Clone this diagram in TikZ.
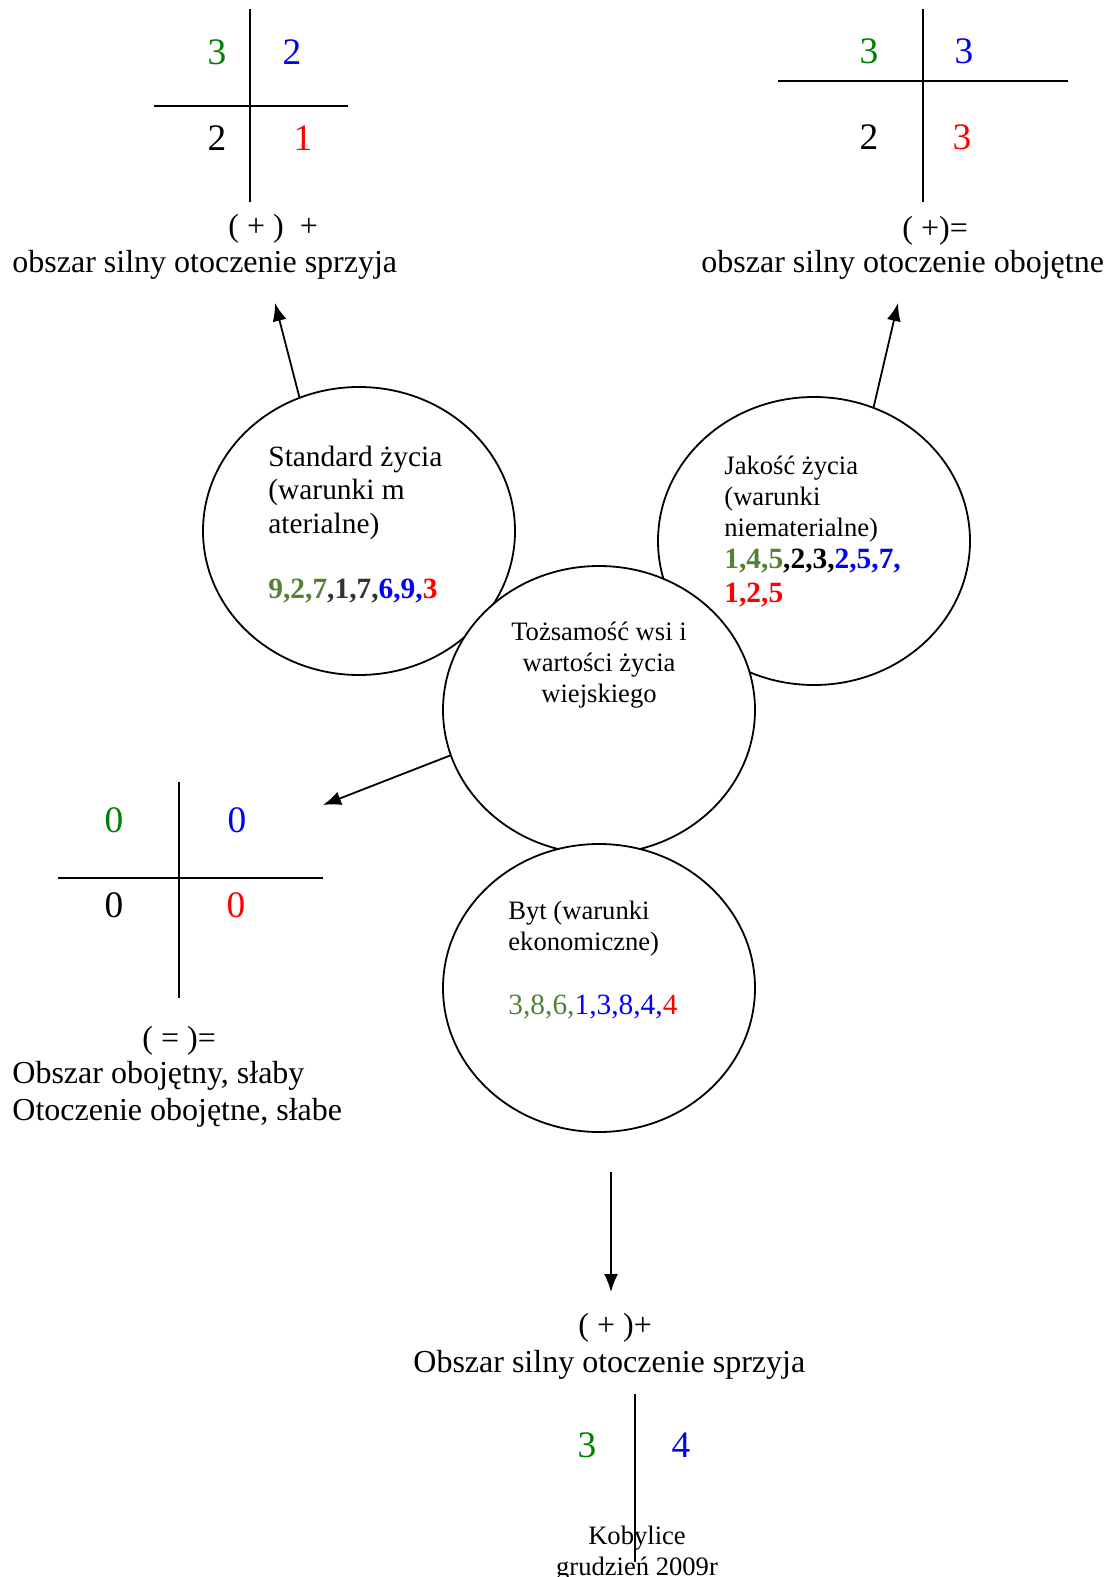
\documentclass[tikz,border=0pt]{standalone}
\usepackage{fontspec}
\setmainfont{Liberation Serif}
\usetikzlibrary{shapes.geometric,arrows.meta}
\definecolor{qgreen}{RGB}{0,128,0}
\definecolor{cgreen}{RGB}{84,130,53}
\definecolor{cgray}{RGB}{51,51,51}
\definecolor{qblue}{RGB}{0,0,255}
\definecolor{qred}{RGB}{255,0,0}
\newcommand\bigtxt{\fontsize{16}{18.5}\selectfont}
\newcommand\digtxt{\fontsize{18.7}{22}\selectfont}
\newcommand\midtxt{\fontsize{14.7}{16.7}\selectfont}
\newcommand\smtxt{\fontsize{13.3}{15.5}\selectfont}
\tikzset{
  area/.style={ellipse,draw,fill=white,line width=0.9pt,minimum width=156pt,minimum height=144pt,inner sep=0pt},
  arr/.style={-{Latex[length=9pt,width=7pt]},line width=0.9pt},
  cross/.style={line width=0.9pt},
  digit/.style={font=\digtxt,anchor=base,inner sep=0pt},
  label/.style={font=\bigtxt,anchor=base west,inner sep=0pt,align=left},
  intxt/.style={anchor=base west,inner sep=0pt,align=left}
}
\begin{document}
\begin{tikzpicture}[x=0.5pt,y=-0.5pt]
\useasboundingbox (0,0) rectangle (1106,1577);
% circles
\node[area] (std) at (359,531) {};
\node[area] (jak) at (814,541) {};
\node[area] (toz) at (599,710) {};
\node[area] (byt) at (599,988) {};
\node[intxt,font=\midtxt] (stdtxt) at (268,533) {Standard życia\\(warunki m\\aterialne)};
\node[intxt,font=\midtxt\bfseries] (stdnum) at (268,598) {\textcolor{cgreen}{9,2,7}\textcolor{cgray}{,1,7,}\textcolor{qblue}{6,9,}\textcolor{qred}{3}};
\node[intxt,font=\smtxt] (jaktxt) at (724,536) {Jakość życia\\(warunki\\niematerialne)};
\node[intxt,font=\midtxt\bfseries] (jaknum) at (724,602) {\textcolor{cgreen}{1,4,5},2,3,\textcolor{qblue}{2,5,7,}\\\textcolor{qred}{1,2,5}};
\node[anchor=base,inner sep=0pt,align=center,font=\smtxt] (toztxt) at (599,702) {Tożsamość wsi i\\wartości życia\\wiejskiego};
\node[intxt,font=\smtxt] (byttxt) at (508,950) {Byt (warunki\\ekonomiczne)};
\node[intxt,font=\midtxt] (bytnum) at (508,1014) {\textcolor{cgreen}{3,8,6,}\textcolor{qblue}{1,3,8,4,}\textcolor{qred}{4}};
% top left
\draw[cross] (250,9) -- (250,202) (154,106) -- (348,106);
\node[digit,qgreen] (tl1) at (217,65) {3};
\node[digit,qblue] (tl2) at (292,65) {2};
\node[digit] (tl3) at (217,151) {2};
\node[digit,qred] (tl4) at (303,151) {1};
\node[label] (tlsign) at (228,237) {(~+~)~~+};
\node[label] (tltxt) at (12,273) {obszar silny otoczenie sprzyja};
% top right
\draw[cross] (923,9) -- (923,202) (778,81) -- (1068,81);
\node[digit,qgreen] (tr1) at (869,64) {3};
\node[digit,qblue] (tr2) at (964,64) {3};
\node[digit] (tr3) at (869,150) {2};
\node[digit,qred] (tr4) at (962,150) {3};
\node[label] (trsign) at (902,239) {(~+)=};
\node[label] (trtxt) at (701,273) {obszar silny otoczenie obojętne};
% left
\draw[cross] (179,782) -- (179,998) (58,878) -- (323,878);
\node[digit,qgreen] (l1) at (114,832) {0};
\node[digit,qblue] (l2) at (237,832) {0};
\node[digit] (l3) at (114,917) {0};
\node[digit,qred] (l4) at (236,917) {0};
\node[label] (lsign) at (142,1048) {(~=~)=};
\node[label] (ltxt) at (12,1120) {Obszar obojętny, słaby\\Otoczenie obojętne, słabe};
% bottom
\node[label] (bsign) at (578,1335) {(~+~)+};
\node[label] (btxt) at (413,1372) {Obszar silny otoczenie sprzyja};
\draw[cross] (635,1394) -- (635,1562);
\node[digit,qgreen] (b1) at (587,1457) {3};
\node[digit,qblue] (b2) at (681,1457) {4};
\node[anchor=base,inner sep=0pt,align=center,font=\smtxt] (place) at (637,1575) {Kobylice\\grudzień 2009r};
% arrows
\coordinate (t1) at (275,303);
\coordinate (t2) at (898,303);
\coordinate (t3) at (323,805);
\coordinate (s4) at (611,1172);
\coordinate (t4) at (611,1292);
\draw[arr] (std.114.8) -- (t1);
\draw[arr] (jak.66) -- (t2);
\draw[arr] (toz.197) -- (t3);
\draw[arr] (s4) -- (t4);
\end{tikzpicture}
\end{document}
